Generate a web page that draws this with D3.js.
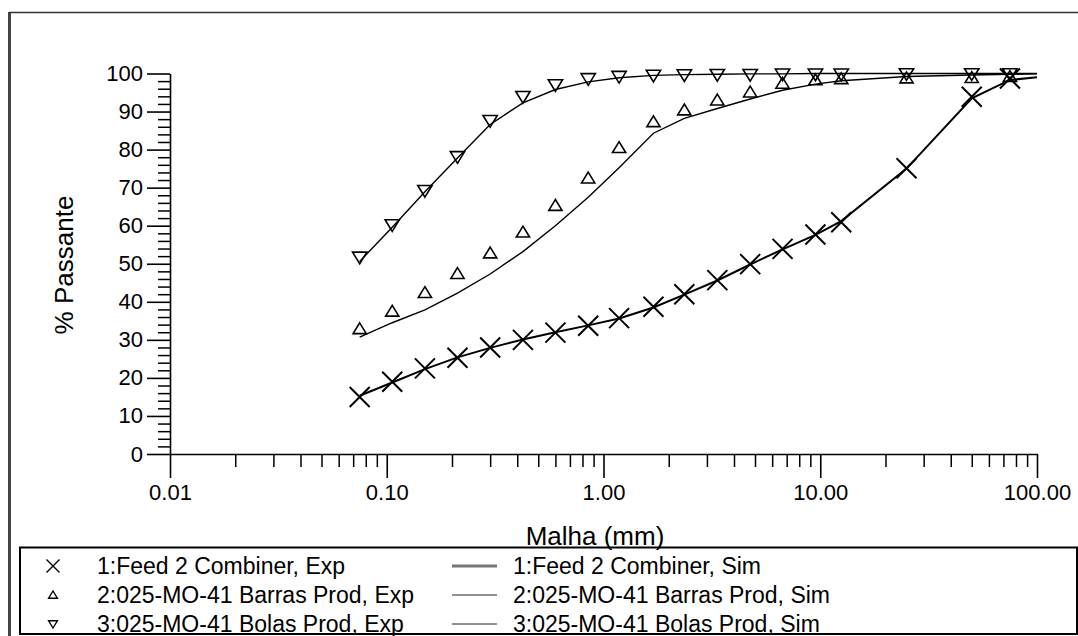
<!DOCTYPE html>
<html>
<head>
<meta charset="utf-8">
<script src="https://cdn.jsdelivr.net/npm/d3@7"></script>
<style>
  body { margin: 0; background: #fff; }
  svg { display: block; font-family: "Liberation Sans", Arial, sans-serif; }
</style>
</head>
<body>
<script>
// sieve sizes (mm)
const sizes = [0.075, 0.106, 0.15, 0.212, 0.3, 0.425, 0.6, 0.85, 1.18, 1.7, 2.36, 3.35, 4.75, 6.7, 9.5, 12.5, 25, 50, 75, 100];

// experimental % passing (first 19 sizes)
const feedExp   = [15.0, 19.0, 22.5, 25.3, 28.0, 30.0, 31.9, 33.7, 35.7, 38.7, 42.0, 45.7, 49.9, 53.9, 57.7, 60.9, 75.1, 93.9, 98.7];
const barrasExp = [32.9, 37.5, 42.4, 47.4, 52.8, 58.3, 65.3, 72.5, 80.5, 87.3, 90.4, 93.0, 95.1, 97.4, 98.3, 98.6, 98.8, 98.9, 99.2];
const bolasExp  = [51.7, 60.2, 69.2, 78.1, 87.6, 93.9, 97.0, 98.6, 99.2, 99.5, 99.6, 99.7, 99.7, 99.8, 99.8, 99.8, 99.9, 99.9, 99.9];

// simulated % passing (all sizes)
const feedSim   = [15.3, 18.8, 22.3, 25.4, 27.9, 30.1, 32.0, 33.8, 35.6, 38.5, 41.9, 45.6, 49.8, 53.8, 57.6, 61.2, 75.0, 93.5, 98.3, 99.0];
const barrasSim = [30.7, 34.5, 37.9, 42.3, 47.3, 53.2, 60.0, 67.5, 75.2, 84.3, 88.2, 90.8, 93.3, 95.6, 97.2, 98.1, 99.2, 99.6, 99.8, 99.9];
const bolasSim  = [50.6, 59.6, 68.9, 77.8, 86.6, 92.3, 95.8, 97.8, 98.9, 99.5, 99.7, 99.8, 99.9, 99.9, 100, 100, 100, 100, 100, 100];

const xMajor = [0.01, 0.1, 1, 10, 100];
const yMajor = [0, 10, 20, 30, 40, 50, 60, 70, 80, 90, 100];

const legendExp = ["1:Feed 2 Combiner, Exp", "2:025-MO-41 Barras Prod, Exp", "3:025-MO-41 Bolas Prod, Exp"];
const legendSim = ["1:Feed 2 Combiner, Sim", "2:025-MO-41 Barras Prod, Sim", "3:025-MO-41 Bolas Prod, Sim"];
const markers = ["x", "up", "down"];

const w = 1078;
const h = 636;

const xScale = d3.scaleLog().domain([0.01, 100]).range([170, 1037]);
const yScale = d3.scaleLinear().domain([0, 100]).range([454, 73.5]);

const svg = d3.select("body").append("svg")
  .attr("width", w)
  .attr("height", h);

// outer frame
svg.append("line").attr("x1", 9.5).attr("x2", 9.5).attr("y1", 12).attr("y2", h)
   .attr("stroke", "#444").attr("stroke-width", 3);
svg.append("line").attr("x1", 9).attr("x2", w).attr("y1", 12.5).attr("y2", 12.5)
   .attr("stroke", "#333").attr("stroke-width", 1.5);

// minor ticks
const xMinor = [];
xMajor.slice(0, -1).forEach(d => { for (let k = 2; k <= 9; k++) xMinor.push(d * k); });

svg.append("g")
   .attr("transform", "translate(0,454)")
   .call(d3.axisBottom(xScale).tickValues(xMinor).tickSize(13).tickSizeOuter(0).tickFormat(""))
   .call(g => g.select(".domain").remove())
   .call(g => g.selectAll("line").attr("stroke-width", 1.5));

const yMinor = d3.range(0, 101, 2).filter(d => d % 10 !== 0);
svg.append("g")
   .attr("transform", "translate(170,0)")
   .call(d3.axisLeft(yScale).tickValues(yMinor).tickSize(12).tickSizeOuter(0).tickFormat(""))
   .call(g => g.select(".domain").remove())
   .call(g => g.selectAll("line").attr("stroke-width", 1.5));

// major axes
const xAxis = d3.axisBottom(xScale)
  .tickValues(xMajor)
  .tickSize(24)
  .tickSizeOuter(0)
  .tickPadding(6)
  .tickFormat(d3.format(".2f"));

const yAxis = d3.axisLeft(yScale)
  .tickValues(yMajor)
  .tickSize(23)
  .tickSizeOuter(0)
  .tickPadding(4)
  .tickFormat(d3.format("d"));

svg.append("g")
   .attr("id", "x-axis")
   .attr("transform", "translate(0,454)")
   .call(xAxis)
   .call(g => g.selectAll("line, .domain").attr("stroke-width", 1.6))
   .call(g => g.selectAll("text").attr("font-size", 22).attr("font-family", "Liberation Sans, Arial, sans-serif").attr("fill", "#000"));

svg.append("g")
   .attr("id", "y-axis")
   .attr("transform", "translate(170,0)")
   .call(yAxis)
   .call(g => g.selectAll("line, .domain").attr("stroke-width", 1.6))
   .call(g => g.selectAll("text").attr("font-size", 22).attr("font-family", "Liberation Sans, Arial, sans-serif").attr("fill", "#000"));

// axis titles
svg.append("text")
   .attr("transform", "translate(73,265) rotate(-90)")
   .attr("text-anchor", "middle")
   .attr("font-size", 26)
   .text("% Passante");

svg.append("text")
   .attr("x", 595)
   .attr("y", 545)
   .attr("text-anchor", "middle")
   .attr("font-size", 26)
   .text("Malha (mm)");

// simulated lines
const line = d3.line()
  .x(d => xScale(d[0]))
  .y(d => yScale(d[1]));

const simSets = [feedSim, barrasSim, bolasSim];
const simWidths = [2, 1.4, 1.4];
simSets.forEach((vals, i) => {
  svg.append("path")
     .datum(vals.map((v, j) => [sizes[j], v]))
     .attr("d", line)
     .attr("fill", "none")
     .attr("stroke", "#000")
     .attr("stroke-width", simWidths[i]);
});

// marker shapes
function markerPath(type, s) {
  if (type === "x") return `M${-s},${-s}L${s},${s}M${-s},${s}L${s},${-s}`;
  if (type === "up") return `M0,${-s}L${s * 1.1},${s * 0.8}L${-s * 1.1},${s * 0.8}Z`;
  return `M0,${s}L${s * 1.1},${-s * 0.8}L${-s * 1.1},${-s * 0.8}Z`;
}

const expSets = [feedExp, barrasExp, bolasExp];
const expSizes = [10, 6, 6.5];
const expWidths = [2, 1.6, 1.6];
expSets.forEach((vals, i) => {
  svg.append("g").selectAll("path")
     .data(vals.map((v, j) => [sizes[j], v]))
     .enter()
     .append("path")
     .attr("transform", d => `translate(${xScale(d[0])},${yScale(d[1])})`)
     .attr("d", markerPath(markers[i], expSizes[i]))
     .attr("fill", "none")
     .attr("stroke", "#000")
     .attr("stroke-width", expWidths[i]);
});

// legend
const legend = svg.append("g");
legend.append("rect")
   .attr("x", 20).attr("y", 547.5)
   .attr("width", 1057).attr("height", 86.5)
   .attr("fill", "none").attr("stroke", "#000").attr("stroke-width", 2);

const rowY = [574, 603, 632];
const legMarkSizes = [6.5, 4, 4];
legendExp.forEach((t, i) => {
  legend.append("path")
     .attr("transform", `translate(53,${rowY[i] - 8})`)
     .attr("d", markerPath(markers[i], legMarkSizes[i]))
     .attr("fill", "none").attr("stroke", "#000").attr("stroke-width", 1.4);
  legend.append("text")
     .attr("x", 97).attr("y", rowY[i])
     .attr("font-size", 23)
     .text(t);
});

legendSim.forEach((t, i) => {
  legend.append("line")
     .attr("x1", 452).attr("x2", 497)
     .attr("y1", rowY[i] - 8).attr("y2", rowY[i] - 8)
     .attr("stroke", i === 0 ? "#777" : "#222")
     .attr("stroke-width", i === 0 ? 3 : 1);
  legend.append("text")
     .attr("x", 513).attr("y", rowY[i])
     .attr("font-size", 23)
     .text(t);
});
</script>
</body>
</html>
